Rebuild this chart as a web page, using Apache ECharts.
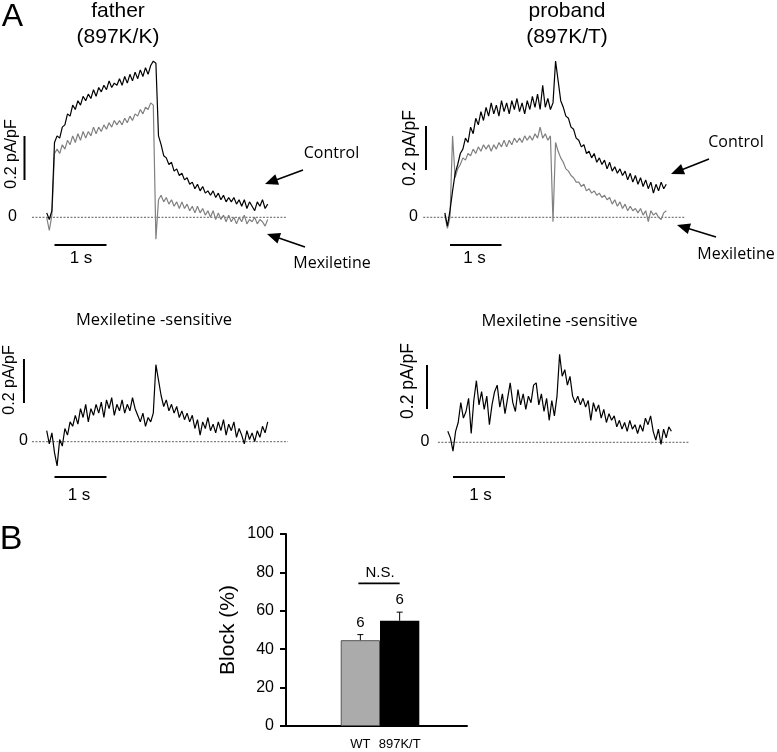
<!DOCTYPE html>
<html><head><meta charset="utf-8">
<script src="https://cdn.jsdelivr.net/npm/echarts@6/dist/echarts.min.js"></script>
<style>html,body{margin:0;padding:0;background:#fff}#c{width:777px;height:752px}</style>
</head><body><div id="c"></div>
<script>
// ---------------- DATA ----------------
// current traces, pA/pF, sampled every 0.05 s; time 0 = start of depolarising step
const sampleStep = 0.05;
const fatherStart = -0.15;
const fatherControl = [0.02,-0.01,0.03,0.34,0.37,0.36,0.41,0.42,0.47,0.46,
 0.51,0.49,0.53,0.51,0.55,0.53,0.56,0.54,0.58,0.55,
 0.59,0.57,0.60,0.58,0.62,0.59,0.61,0.60,0.63,0.60,
 0.64,0.61,0.65,0.62,0.66,0.63,0.67,0.64,0.68,0.65,
 0.69,0.71,0.70,0.37,0.33,0.28,0.27,0.24,0.25,0.21,
 0.22,0.19,0.20,0.17,0.18,0.15,0.16,0.13,0.15,0.12,
 0.14,0.11,0.12,0.10,0.12,0.09,0.11,0.08,0.10,0.07,
 0.09,0.07,0.09,0.06,0.08,0.05,0.08,0.04,0.07,0.05,
 0.03,0.07,0.05,0.08,0.04,0.06];
const fatherMexiletine = [0.00,-0.06,0.01,0.29,0.31,0.29,0.33,0.31,0.35,0.33,
 0.37,0.34,0.38,0.35,0.39,0.36,0.39,0.37,0.41,0.38,
 0.41,0.39,0.42,0.40,0.43,0.41,0.44,0.42,0.44,0.42,
 0.45,0.43,0.46,0.44,0.47,0.46,0.49,0.47,0.50,0.49,
 0.52,0.51,-0.10,0.08,0.10,0.07,0.09,0.06,0.08,0.05,
 0.07,0.04,0.07,0.04,0.06,0.03,0.05,0.02,0.05,0.02,
 0.04,0.01,0.03,0.00,0.03,-0.01,0.02,-0.01,0.01,-0.02,
 0.01,-0.02,0.00,-0.03,0.00,-0.02,0.01,-0.03,-0.01,-0.02,
 0.00,-0.03,-0.01,-0.02,-0.04,-0.01];
const fatherSensitive = [0.05,-0.01,0.04,-0.05,-0.11,0.01,-0.02,0.06,0.03,0.09,
 0.07,0.12,0.08,0.15,0.11,0.17,0.09,0.15,0.12,0.17,
 0.13,0.18,0.11,0.19,0.15,0.20,0.12,0.17,0.14,0.19,
 0.13,0.17,0.14,0.20,0.15,0.12,0.09,0.13,0.07,0.11,
 0.09,0.13,0.35,0.28,0.21,0.16,0.19,0.14,0.17,0.13,
 0.16,0.11,0.14,0.10,0.13,0.09,0.12,0.06,0.10,0.03,
 0.09,0.06,0.11,0.05,0.08,0.04,0.09,0.05,0.10,0.03,
 0.08,0.05,0.09,0.02,0.06,0.03,-0.01,0.05,0.01,0.04,
 0.00,0.05,0.02,0.07,0.04,0.09];

const probandStart = -0.10;
const probandControl = [0.02,-0.04,0.03,0.12,0.20,0.24,0.29,0.31,0.36,0.34,
 0.41,0.38,0.45,0.42,0.48,0.44,0.50,0.46,0.52,0.47,
 0.51,0.46,0.53,0.48,0.52,0.47,0.53,0.49,0.54,0.48,
 0.52,0.47,0.53,0.49,0.55,0.50,0.56,0.49,0.60,0.50,
 0.54,0.49,0.52,0.71,0.62,0.53,0.50,0.46,0.45,0.41,
 0.40,0.36,0.35,0.32,0.33,0.29,0.30,0.27,0.29,0.25,
 0.27,0.24,0.26,0.22,0.25,0.21,0.23,0.20,0.22,0.19,
 0.21,0.17,0.20,0.16,0.19,0.15,0.18,0.14,0.17,0.13,
 0.16,0.11,0.15,0.12,0.16,0.13,0.15];
const probandMexiletine = [0.01,-0.05,0.00,0.37,0.18,0.22,0.24,0.27,0.26,0.29,
 0.28,0.31,0.29,0.32,0.30,0.33,0.31,0.33,0.30,0.33,
 0.31,0.34,0.32,0.35,0.32,0.35,0.33,0.36,0.34,0.36,
 0.34,0.37,0.35,0.37,0.35,0.38,0.36,0.41,0.36,0.38,
 0.35,0.37,-0.02,0.34,0.30,0.27,0.25,0.22,0.21,0.19,
 0.18,0.16,0.16,0.14,0.15,0.12,0.13,0.11,0.12,0.10,
 0.11,0.09,0.10,0.08,0.09,0.06,0.08,0.05,0.07,0.04,
 0.06,0.03,0.05,0.03,0.04,0.02,0.04,0.01,0.03,-0.02,
 0.03,0.01,0.02,0.00,-0.01,0.02,0.03];
const probandSensitive = [0.05,0.02,-0.04,0.05,0.09,0.18,0.11,0.14,0.20,0.04,
 0.19,0.28,0.17,0.23,0.15,0.21,0.08,0.17,0.23,0.26,
 0.16,0.22,0.13,0.20,0.27,0.18,0.14,0.24,0.17,0.22,
 0.15,0.21,0.18,0.26,0.27,0.17,0.22,0.14,0.20,0.10,
 0.19,0.12,0.21,0.40,0.30,0.33,0.26,0.30,0.21,0.18,
 0.21,0.17,0.20,0.16,0.19,0.10,0.18,0.14,0.17,0.11,
 0.15,0.09,0.13,0.10,0.12,0.07,0.10,0.06,0.09,0.05,
 0.10,0.06,0.08,0.04,0.08,0.05,0.11,0.08,0.12,0.05,
 0.01,0.06,-0.01,0.06,0.02,0.07,0.05];

// scale bars (value of each bar)
const scaleTime = 1;      // s
const scaleCurrent = 0.2; // pA/pF

// Panel B
const blockCategories = ['WT', '897K/T'];
const blockMean = [44.7, 54.8];
const blockSem = [2.9, 4.5];
const blockN = [6, 6];
const blockNSLevel = 74.3;
const blockTicks = [0, 20, 40, 60, 80, 100];

// ---------------- LAYOUT ----------------
const SANS = '"Liberation Sans", Arial, sans-serif';
const HUM = '"Open Sans", sans-serif';
const GRAY = '#808080';

const panels = [
  { x0: 54.5, pxs: 52, y0: 217.3, pxu: 220, tMin: -0.7, tMax: 4.6, iMin: -0.2, iMax: 0.8,
    zero: [-0.433, 4.45], vbarT: -0.577, vbarI: 0.17, hbarI: -0.126,
    traces: [{ v: fatherMexiletine, s: fatherStart, c: GRAY }, { v: fatherControl, s: fatherStart, c: '#000' }] },
  { x0: 450, pxs: 51.5, y0: 217.3, pxu: 220, tMin: -0.7, tMax: 4.6, iMin: -0.2, iMax: 0.8,
    zero: [-0.52, 4.56], vbarT: -0.466, vbarI: 0.215, hbarI: -0.126,
    traces: [{ v: probandMexiletine, s: probandStart, c: GRAY }, { v: probandControl, s: probandStart, c: '#000' }] },
  { x0: 54.5, pxs: 52, y0: 441.7, pxu: 220, tMin: -0.7, tMax: 4.6, iMin: -0.2, iMax: 0.5,
    zero: [-0.433, 4.49], vbarT: -0.587, vbarI: 0.176, hbarI: -0.16,
    traces: [{ v: fatherSensitive, s: fatherStart, c: '#000' }] },
  { x0: 453, pxs: 52, y0: 442.3, pxu: 220, tMin: -0.7, tMax: 4.6, iMin: -0.2, iMax: 0.5,
    zero: [-0.29, 4.54], vbarT: -0.5, vbarI: 0.151, hbarI: -0.158,
    traces: [{ v: probandSensitive, s: probandStart, c: '#000' }] }
];

const grids = [], xAxes = [], yAxes = [], series = [];
panels.forEach((p, k) => {
  grids.push({ left: p.x0 + p.tMin * p.pxs, top: p.y0 - p.iMax * p.pxu,
    width: (p.tMax - p.tMin) * p.pxs, height: (p.iMax - p.iMin) * p.pxu });
  xAxes.push({ type: 'value', gridIndex: k, min: p.tMin, max: p.tMax, show: false });
  yAxes.push({ type: 'value', gridIndex: k, min: p.iMin, max: p.iMax, show: false });
  const base = { type: 'line', xAxisIndex: k, yAxisIndex: k, showSymbol: false, symbol: 'none',
    silent: true, animation: false, clip: false };
  // zero line
  series.push(Object.assign({}, base, { data: [[p.zero[0], 0], [p.zero[1], 0]],
    lineStyle: { color: '#333', width: 0.8, type: [2, 1.5] }, z: 1 }));
  // traces
  p.traces.forEach(tr => {
    series.push(Object.assign({}, base, {
      data: tr.v.map((v, i) => [tr.s + i * sampleStep, v]),
      lineStyle: { color: tr.c, width: 1.2 }, z: 2 }));
  });
  // scale bars
  series.push(Object.assign({}, base, { data: [[p.vbarT, p.vbarI], [p.vbarT, p.vbarI + scaleCurrent]],
    lineStyle: { color: '#000', width: 2 }, z: 3 }));
  series.push(Object.assign({}, base, { data: [[0, p.hbarI], [scaleTime, p.hbarI]],
    lineStyle: { color: '#000', width: 2 }, z: 3 }));
});

// Panel B grid
const bLeft = 286, bTop = 534, bWidth = 181, bHeight = 192, bUnit = 39.3, bFirst = 1.892;
const bk = panels.length;
grids.push({ left: bLeft, top: bTop, width: bWidth, height: bHeight });
xAxes.push({ type: 'value', gridIndex: bk, min: -bFirst, max: bWidth / bUnit - bFirst,
  axisLine: { show: true, onZero: false, lineStyle: { color: '#000', width: 2 } },
  axisTick: { show: false }, splitLine: { show: false },
  axisLabel: { customValues: blockCategories.map((c, i) => i),
    formatter: v => blockCategories[Math.round(v)] || '',
    color: '#000', fontSize: 13, fontFamily: SANS, margin: 12 } });
yAxes.push({ type: 'value', gridIndex: bk, min: blockTicks[0], max: blockTicks[blockTicks.length - 1],
  interval: blockTicks[1] - blockTicks[0],
  axisLine: { show: true, onZero: false, lineStyle: { color: '#000', width: 2 } },
  axisTick: { show: true, length: 6, lineStyle: { color: '#000', width: 2 } },
  splitLine: { show: false },
  axisLabel: { color: '#000', fontSize: 16, fontFamily: SANS, margin: 12 },
  name: 'Block (%)', nameLocation: 'middle', nameGap: 47, nameRotate: 90,
  nameTextStyle: { color: '#000', fontSize: 21, fontFamily: SANS } });

const barStyles = [{ color: '#ababab', borderColor: '#555', borderWidth: 1 }, { color: '#000' }];
series.push({ type: 'bar', xAxisIndex: bk, yAxisIndex: bk, barWidth: bUnit, silent: true, animation: false,
  data: blockMean.map((m, i) => ({ value: [i, m], itemStyle: barStyles[i] })) });
series.push({ type: 'custom', xAxisIndex: bk, yAxisIndex: bk, silent: true, animation: false, z: 5,
  data: blockMean.map((m, i) => [i, m, blockSem[i], blockN[i]]),
  renderItem: (params, api) => {
    const x = api.value(0), m = api.value(1), s = api.value(2);
    const p0 = api.coord([x, m]), p1 = api.coord([x, m + s]);
    return { type: 'group', children: [
      { type: 'line', shape: { x1: p0[0], y1: p0[1], x2: p1[0], y2: p1[1] }, style: { stroke: '#000', lineWidth: 1 } },
      { type: 'line', shape: { x1: p1[0] - 3, y1: p1[1], x2: p1[0] + 3, y2: p1[1] }, style: { stroke: '#000', lineWidth: 1 } },
      { type: 'text', x: p1[0], y: p1[1] - 12, style: { text: String(api.value(3)), fill: '#000', fontSize: 15,
        fontFamily: SANS, align: 'center', verticalAlign: 'middle', textAlign: 'center', textVerticalAlign: 'middle' } }
    ] };
  } });
series.push({ type: 'custom', xAxisIndex: bk, yAxisIndex: bk, silent: true, animation: false, z: 5,
  data: [[0, blockCategories.length - 1, blockNSLevel]],
  renderItem: (params, api) => {
    const a = api.coord([api.value(0), api.value(2)]), b = api.coord([api.value(1), api.value(2)]);
    return { type: 'group', children: [
      { type: 'line', shape: { x1: a[0] - 2, y1: a[1], x2: b[0], y2: b[1] }, style: { stroke: '#000', lineWidth: 1.6 } },
      { type: 'text', x: (a[0] + b[0]) / 2, y: a[1] - 10, style: { text: 'N.S.', fill: '#000', fontSize: 15,
        fontFamily: SANS, align: 'center', verticalAlign: 'middle', textAlign: 'center', textVerticalAlign: 'middle' } }
    ] };
  } });

// ---------------- annotations ----------------
function txt(s, x, y, size, fam, rot) {
  return { type: 'text', x: x, y: y, rotation: rot || 0, silent: true, z: 10,
    style: { text: s, fill: '#000', fontSize: size, fontFamily: fam,
      align: 'center', verticalAlign: 'middle', textAlign: 'center', textVerticalAlign: 'middle' } };
}
function arrow(x1, y1, x2, y2) {
  const dx = x2 - x1, dy = y2 - y1, L = Math.hypot(dx, dy), ux = dx / L, uy = dy / L;
  const hl = 13, hw = 5.5, bx = x2 - ux * hl, by = y2 - uy * hl;
  return [
    { type: 'line', silent: true, z: 10, shape: { x1: x1, y1: y1, x2: bx + ux * 2, y2: by + uy * 2 }, style: { stroke: '#000', lineWidth: 1.6 } },
    { type: 'polygon', silent: true, z: 10, shape: { points: [[x2, y2], [bx - uy * hw, by + ux * hw], [bx + uy * hw, by - ux * hw]] }, style: { fill: '#000' } }
  ];
}
const graphics = [
  txt('A', 12.5, 17, 32, SANS), txt('B', 11, 540, 34, SANS),
  txt('father', 118, 11, 21, SANS), txt('(897K/K)', 118, 37, 21, SANS),
  txt('proband', 567, 11, 21, SANS), txt('(897K/T)', 567, 37, 21, SANS),
  txt('0', 12.5, 217, 16, SANS), txt('0', 413.5, 217, 16, SANS),
  txt('0', 23.5, 441, 16, SANS), txt('0', 425, 442, 16, SANS),
  txt('0.2 pA/pF', 12, 154, 16, SANS, Math.PI / 2), txt('0.2 pA/pF', 410, 148, 17.5, SANS, Math.PI / 2),
  txt('0.2 pA/pF', 10, 380, 16, SANS, Math.PI / 2), txt('0.2 pA/pF', 408.5, 381, 17.5, SANS, Math.PI / 2),
  txt('1 s', 81, 258, 17, SANS), txt('1 s', 474.5, 258, 17, SANS),
  txt('1 s', 79, 495, 17, SANS), txt('1 s', 480.5, 495, 17, SANS),
  txt('Control', 331.5, 153, 16, HUM), txt('Mexiletine', 332, 263, 16, HUM),
  txt('Control', 736, 142.5, 16, HUM), txt('Mexiletine', 736, 254, 16, HUM),
  txt('Mexiletine -sensitive', 154, 320, 16.5, HUM), txt('Mexiletine -sensitive', 559.5, 321.5, 16.5, HUM)
].concat(arrow(303, 170, 265, 184), arrow(305, 247, 267, 234),
         arrow(709, 159, 671, 174), arrow(716, 237, 677, 225));

const chart = echarts.init(document.getElementById('c'), null, { renderer: 'canvas' });
chart.setOption({
  animation: false, backgroundColor: '#fff',
  grid: grids, xAxis: xAxes, yAxis: yAxes, series: series, graphic: graphics
});
</script></body></html>
